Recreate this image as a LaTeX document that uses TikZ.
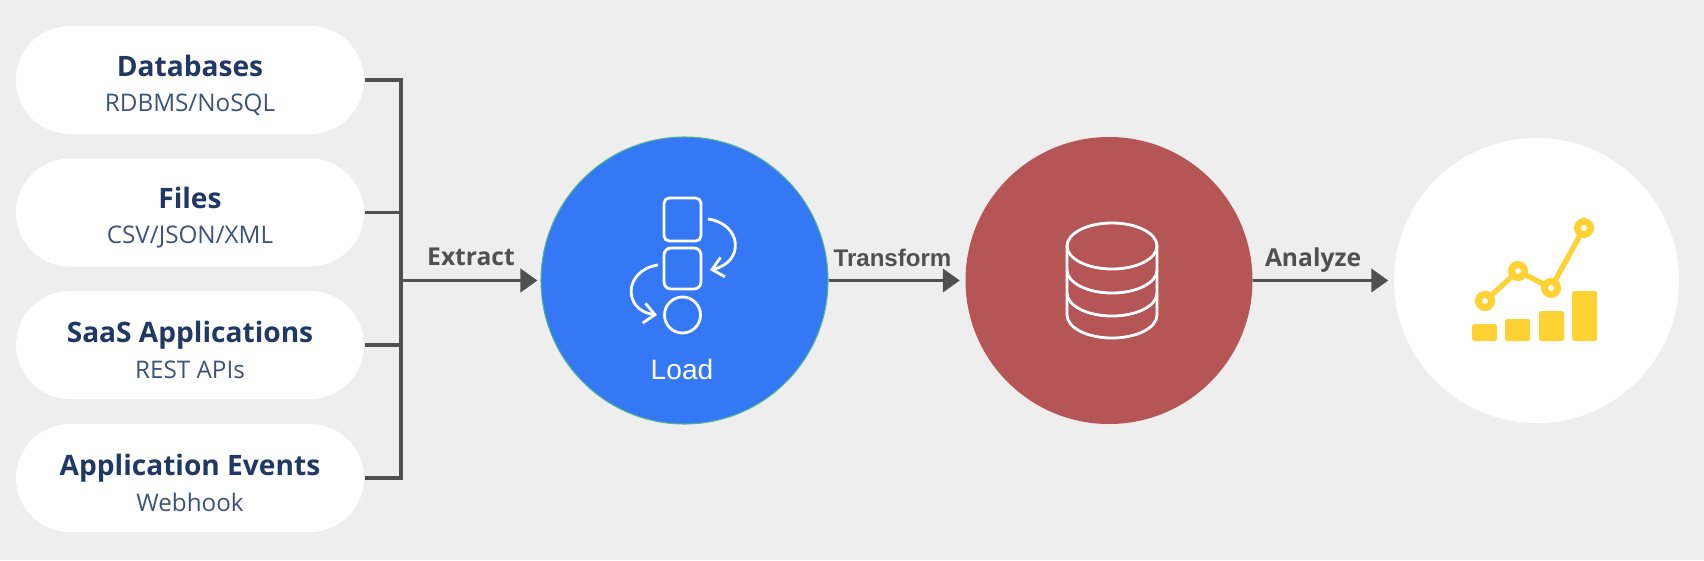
\documentclass[tikz,border=0pt]{standalone}
\usepackage{fontspec}
\setmainfont{Liberation Sans}
\newfontfamily\labelfont{Open Sans}
\usetikzlibrary{arrows.meta,positioning,shapes.misc}
\definecolor{pagegray}{HTML}{EEEEEE}
\definecolor{linegray}{HTML}{505050}
\definecolor{titleblue}{HTML}{1F3864}
\definecolor{subblue}{HTML}{3D5478}
\definecolor{loadblue}{HTML}{3578F6}
\definecolor{loadedge}{HTML}{4FB58E}
\definecolor{storered}{HTML}{B55555}
\definecolor{chartyellow}{HTML}{FFD233}
\newcommand{\pilltext}[2]{\rule{0pt}{9pt}{\fontsize{8}{10}\labelfont\bfseries\color{titleblue}#1}\\[-1.9pt]{\fontsize{6.9}{8}\labelfont\color{subblue}#2}}
\tikzset{
	sourcepill/.style={rounded rectangle,fill=white,minimum width=3.48cm,minimum height=1.08cm,inner sep=0pt,align=center},
	stagecircle/.style={circle,minimum size=2.87cm,inner sep=0pt},
	busline/.style={linegray,line width=1.1pt},
	flowarrow/.style={busline,-{Triangle[length=1.7mm,width=2.3mm]},shorten >=.05cm},
	flowlabel/.style={text=linegray,inner sep=0pt},
	iconline/.style={white,line width=.8pt}
}
\begin{document}
\begin{tikzpicture}
	\useasboundingbox[fill=pagegray] (0,0) rectangle (17.04,-5.6);

	\node[sourcepill] (db) at (1.9,-.8) {\pilltext{Databases}{RDBMS/NoSQL}};
	\node[sourcepill] (files) at (1.9,-2.125) {\pilltext{Files}{CSV/JSON/XML}};
	\node[sourcepill] (saas) at (1.9,-3.45) {\pilltext{SaaS Applications}{REST APIs}};
	\node[sourcepill] (events) at (1.9,-4.78) {\pilltext{Application Events}{Webhook}};

	\node[stagecircle,fill=loadblue,draw=loadedge,line width=.3pt] (load) at (6.845,-2.805) {};
	\node[stagecircle,fill=storered] (store) at (11.09,-2.805) {};
	\node[stagecircle,fill=white,minimum size=2.85cm] (analyze) at (15.365,-2.805) {};

	\coordinate (merge) at (4.01,-2.805);
	\draw[busline] (db.east) -| (merge);
	\draw[busline] (files.east) -| (merge);
	\draw[busline] (saas.east) -| (merge);
	\draw[busline] (events.east) -| (merge);
	\draw[flowarrow,shorten >=.03cm] (merge) -- (load);
	\draw[flowarrow] (load) -- (store);
	\draw[flowarrow] (store) -- (analyze);

	\node[flowlabel,font=\fontsize{7}{8}\labelfont\bfseries] (extract) at (4.71,-2.565) {Extract};
	\node[flowlabel,font=\fontsize{6.85}{8}\bfseries] (transform) at (8.925,-2.58) {Transform};
	\node[flowlabel,font=\fontsize{7}{8}\labelfont\bfseries] (analyzetxt) at (13.13,-2.6) {Analyze};

	% load icon
	\begin{scope}[iconline]
		\draw[rounded corners=1.5pt] (6.64,-1.98) rectangle (7.01,-2.41);
		\draw[rounded corners=2pt] (6.64,-2.48) rectangle (7.01,-2.89);
		\draw (6.825,-3.15) circle (.18);
		\draw[-{Straight Barb[length=1.1mm,width=2mm]}] (7.08,-2.19) .. controls (7.42,-2.24) and (7.45,-2.62) .. (7.1,-2.7);
		\draw[-{Straight Barb[length=1.1mm,width=2mm]}] (6.58,-2.65) .. controls (6.24,-2.7) and (6.22,-3.1) .. (6.57,-3.15);
	\end{scope}
	\node[text=white,font=\fontsize{8}{10}\selectfont,inner sep=0pt] (loadtxt) at (6.82,-3.69) {Load};

	% database icon
	\begin{scope}[iconline]
		\draw (11.12,-2.46) ellipse (.45 and .23);
		\draw (10.67,-2.46) -- (10.67,-3.15) arc (180:360:.45 and .23) -- (11.57,-2.46);
		\draw (10.67,-2.7) arc (180:360:.45 and .23);
		\draw (10.67,-2.93) arc (180:360:.45 and .23);
	\end{scope}

	% chart icon
	\begin{scope}[fill=chartyellow]
		\fill[rounded corners=.5pt] (14.72,-3.24) rectangle (14.97,-3.41);
		\fill[rounded corners=.5pt] (15.05,-3.19) rectangle (15.3,-3.41);
		\fill[rounded corners=.5pt] (15.39,-3.11) rectangle (15.64,-3.41);
		\fill[rounded corners=.5pt] (15.72,-2.91) rectangle (15.97,-3.41);
		\draw[chartyellow,line width=1.5pt] (14.85,-3.01) -- (15.18,-2.71) -- (15.51,-2.88) -- (15.84,-2.28);
		\foreach \px/\py in {14.85/-3.01,15.18/-2.71,15.51/-2.88,15.84/-2.28}{
			\draw[chartyellow,fill=white,line width=2pt] (\px,\py) circle (.065);
		}
	\end{scope}
\end{tikzpicture}
\end{document}
